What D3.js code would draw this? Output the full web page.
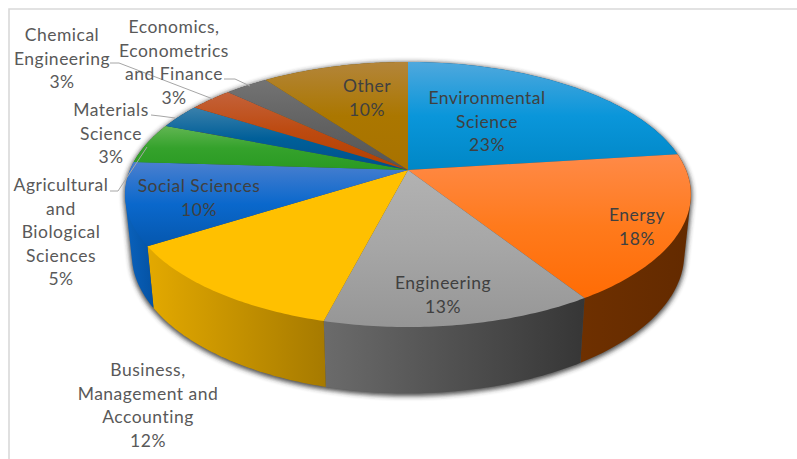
<!DOCTYPE html>
<html>
<head>
<meta charset="utf-8">
<script src="https://cdn.jsdelivr.net/npm/d3@7"></script>
<style>
  html, body { margin: 0; padding: 0; background: #fff; }
  svg { display: block; }
  text { font-family: Lato, "Open Sans", sans-serif; font-size: 17.5px; letter-spacing: 0.5px; text-anchor: middle; }
</style>
</head>
<body>
<svg id="chart" width="797" height="459"></svg>
<script>
// Subject areas and their share of the total, clockwise from twelve o'clock
const categories = ["Environmental Science", "Energy", "Engineering",
  "Business, Management and Accounting", "Social Sciences",
  "Agricultural and Biological Sciences", "Materials Science",
  "Chemical Engineering", "Economics, Econometrics and Finance", "Other"];
const shares = [23, 18, 13, 12, 10, 5, 3, 3, 3, 10];

// Line breaks of each label's name
const labelLines = [
  ["Environmental", "Science"], ["Energy"], ["Engineering"],
  ["Business,", "Management and", "Accounting"], ["Social Sciences"],
  ["Agricultural", "and", "Biological", "Sciences"], ["Materials", "Science"],
  ["Chemical", "Engineering"], ["Economics,", "Econometrics", "and Finance"], ["Other"]
];

// Slice styling: top-face gradient stops and side-wall gradient stops (left to right)
const topStops = [
  ["#4fa8dd", "#0a96da", "#0087c6"], ["#ff8a48", "#ff7a1c", "#ff6c05"], ["#b2b2b2", "#a6a6a6", "#969696"],
  ["#ffc000", "#ffc000", "#ffc000"], ["#4a7fcf", "#0a68cc", "#0557ae"], ["#62b653", "#35a22c", "#2a9a22"],
  ["#3a80ab", "#005f99", "#00508a"], ["#c4623a", "#bd4a10", "#b24000"], ["#737373", "#626262", "#555555"],
  ["#b3853a", "#ab7700", "#a87200"]
];
const wallStops = [
  ["#005a96", "#005a96"], ["#6e3000", "#632a00"], ["#6b6b6b", "#363636"],
  ["#e3a900", "#a67a00"], ["#0a62bd", "#0452a3"], ["#1f7a19", "#1f7a19"],
  ["#00426f", "#00426f"], ["#7a2e00", "#7a2e00"], ["#444444", "#444444"], ["#7a5500", "#7a5500"]
];

// Label anchor (centre x, first line centre y) and line spacing
const labelAnchors = [
  [487, 98], [637, 215], [443, 283], [148, 370], [199, 186],
  [61, 185], [111, 110], [62, 35], [174, 27], [367, 86]
];
const lineStep = 23.5;
const labelColors = ["#404040", "#404040", "#404040", "#595959", "#404040",
  "#595959", "#595959", "#595959", "#595959", "#404040"];

// Leader lines from the outside labels to their slices
const leaders = [
  [[110, 63], [119, 63], [213, 99]],
  [[224, 79], [235, 79], [250, 86]],
  [[151, 115], [160, 116], [175, 118]],
  [[110, 191], [118, 191], [147, 147]]
];

const svg = d3.select("#chart");
const defs = svg.append("defs");

// Perspective projection of the unit disc: nearer points are spread further apart
const persp = 0.1849;
function project(radiusX, originY, radiusY) {
  return angle => {
    const x = Math.sin(angle), y = -Math.cos(angle);
    const s = 1 / (1 - persp * y);
    return [408 + radiusX * x * s, originY + radiusY * y * s];
  };
}
const topFace = project(278, 170, 128);
const baseFace = project(271.5, 228, 134.7);

const arcs = d3.pie().sort(null).value(d => d).startAngle(0).endAngle(2 * Math.PI)(shares);
const sample = (a, n = 60) => d3.range(n + 1).map(i => a.startAngle + (a.endAngle - a.startAngle) * i / n);
const path = d3.line();

// Frame around the chart area
svg.append("path").attr("d", "M800,9H9V459").attr("fill", "none")
  .attr("stroke", "#d9d9d9").attr("stroke-width", 1.6);

// Soft shadow around the lower rim of the solid
const blur = defs.append("filter").attr("id", "soft")
  .attr("x", "-10%").attr("y", "-10%").attr("width", "120%").attr("height", "120%");
blur.append("feGaussianBlur").attr("stdDeviation", 2.4);
const fullCircle = { startAngle: 0, endAngle: 2 * Math.PI };
const wholeAngles = sample(fullCircle, 180);
svg.append("path")
  .attr("d", path(d3.polygonHull(wholeAngles.map(topFace).concat(wholeAngles.map(baseFace)))) + "Z")
  .attr("transform", "translate(0,1.5)")
  .attr("fill", "#2b2b2b").attr("stroke", "#2b2b2b").attr("stroke-width", 2.5)
  .attr("opacity", 0.85).attr("filter", "url(#soft)");

function gradient(id, stops, horizontal) {
  const g = defs.append("linearGradient").attr("id", id)
    .attr("x1", 0).attr("y1", 0).attr("x2", horizontal ? 1 : 0).attr("y2", horizontal ? 0 : 1);
  stops.forEach((c, i) => g.append("stop")
    .attr("offset", i / (stops.length - 1)).attr("stop-color", c));
}

// Side walls first (hulls keep the rim's silhouette), then the top faces over them
svg.append("g").selectAll("path").data(arcs).join("path")
  .each((d, i) => gradient("wall" + i, wallStops[i], true))
  .attr("d", d => {
    const angles = sample(d);
    return path(d3.polygonHull(angles.map(topFace).concat(angles.map(baseFace)))) + "Z";
  })
  .attr("fill", (d, i) => `url(#wall${i})`);

const apex = [408, 170];
svg.append("g").selectAll("path").data(arcs).join("path")
  .each((d, i) => gradient("top" + i, topStops[i], false))
  .attr("d", d => path([apex].concat(sample(d).map(topFace))) + "Z")
  .attr("fill", (d, i) => `url(#top${i})`);

// Leader lines
svg.append("g").selectAll("path").data(leaders).join("path")
  .attr("d", d => path(d)).attr("fill", "none")
  .attr("stroke", "#a6a6a6").attr("stroke-width", 1);

// Labels: name lines followed by the percentage
const labels = svg.append("g").selectAll("text").data(categories).join("text")
  .attr("fill", (d, i) => labelColors[i]);
labels.each(function (d, i) {
  const rows = labelLines[i].concat(shares[i] + "%");
  d3.select(this).selectAll("tspan").data(rows).join("tspan")
    .attr("x", labelAnchors[i][0])
    .attr("y", (r, j) => labelAnchors[i][1] + j * lineStep)
    .attr("dy", "0.35em")
    .text(r => r);
});
</script>
</body>
</html>
